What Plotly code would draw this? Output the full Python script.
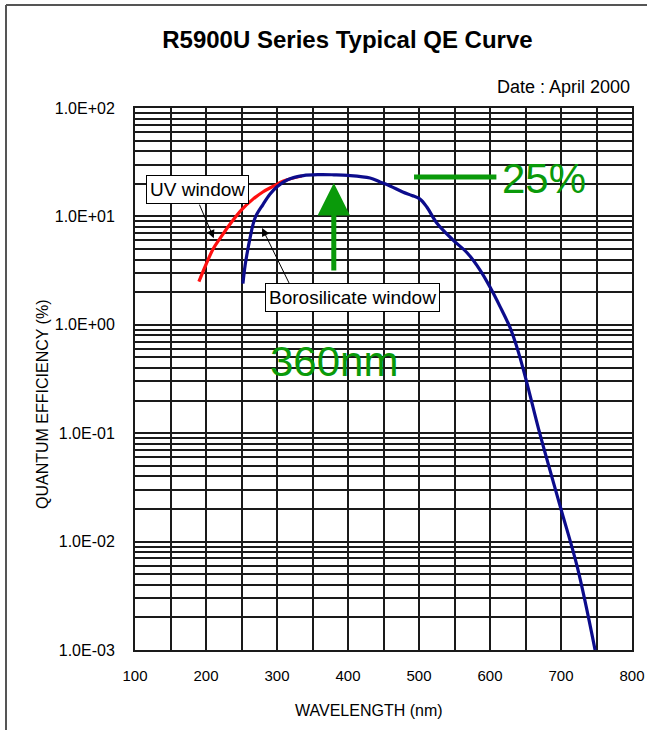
import numpy as np
import plotly.graph_objects as go

# ---- data ----
boro_wl = [252, 255, 258, 262, 266, 270, 280, 290, 300, 315, 337, 360, 380, 400,
           431, 445, 460, 477, 490, 501, 511, 525, 548, 568, 586, 600, 614, 628,
           640, 652, 670, 699, 723, 748]
boro_qe = [2.4, 3.5, 4.6, 6.3, 8.3, 10.0, 12.8, 16.0, 18.8, 21.8, 23.8, 24.3, 24.2, 23.9,
           22.6, 20.8, 19.0, 16.8, 15.6, 14.5, 12.2, 8.7, 6.05, 4.6, 3.2, 2.23, 1.48, 0.95,
           0.56, 0.29, 0.1, 0.021, 0.0058, 0.001]

uv_wl = [190, 200, 210, 220, 235, 250, 265, 280, 295, 310, 335]
uv_qe = [2.5, 3.6, 5.0, 6.3, 8.7, 11.5, 14.2, 16.8, 19.0, 21.3, 23.6]

x_tickvals = list(range(100, 801, 50))
x_ticktext = [str(v) if v % 100 == 0 else "" for v in x_tickvals]

decades = [-3, -2, -1, 0, 1]
y_tickvals = [m * 10.0 ** d for d in decades for m in range(1, 10)] + [100.0]
y_ticktext = []
for d in decades:
    y_ticktext.append("1.0E%+03d" % d)
    y_ticktext += [""] * 8
y_ticktext.append("1.0E+02")

peak_wl = 380          # position of the green arrow
peak_arrow_qe = [3.07, 20.3]
level_line_wl = [493, 609]
level_line_qe = [23.1, 23.1]

FONT = "Liberation Sans, Arial, sans-serif"
GREEN = "#0a9a0a"

fig = go.Figure()
fig.add_trace(go.Scatter(x=uv_wl, y=uv_qe, mode="lines", line=dict(color="#ff1010", width=3.2, shape="spline"),
                         name="UV window", hoverinfo="skip"))
fig.add_trace(go.Scatter(x=boro_wl, y=boro_qe, mode="lines", line=dict(color="#0c0c8c", width=3.2, shape="spline"),
                         name="Borosilicate window", hoverinfo="skip"))
fig.add_trace(go.Scatter(x=level_line_wl, y=level_line_qe, mode="lines", line=dict(color=GREEN, width=5),
                         hoverinfo="skip", showlegend=False))

fig.update_layout(
    width=647, height=730,
    margin=dict(l=135, r=15, t=108, b=80, autoexpand=False),
    paper_bgcolor="white", plot_bgcolor="white",
    showlegend=False,
    font=dict(family=FONT, color="black"),
    title=dict(text="<b>R5900U Series Typical QE Curve</b>", x=0.537, xanchor="center",
               y=1 - 40 / 730, yanchor="middle", font=dict(size=24, family=FONT, color="black")),
)

fig.update_xaxes(
    range=[100, 800], tickvals=x_tickvals, ticktext=x_ticktext,
    showgrid=True, gridcolor="#1a1a1a", gridwidth=1.6,
    showline=True, linecolor="#1a1a1a", linewidth=2, mirror=True,
    ticks="", tickfont=dict(size=15), ticklabelstandoff=11,
    zeroline=False, automargin=False,
)
fig.update_yaxes(
    type="log", range=[-3, 2], tickvals=y_tickvals, ticktext=y_ticktext,
    showgrid=True, gridcolor="#1a1a1a", gridwidth=1.6,
    showline=True, linecolor="#1a1a1a", linewidth=2, mirror=True,
    ticks="", tickfont=dict(size=16), ticklabelstandoff=15, automargin=False,
)

# axis titles
fig.add_annotation(text="WAVELENGTH (nm)", xref="paper", yref="paper", x=(369 - 135) / 497,
                   y=(650 - 710) / 542, xanchor="center", yanchor="middle", showarrow=False,
                   font=dict(size=16))
fig.add_annotation(text="QUANTUM EFFICIENCY (%)", xref="paper", yref="paper", x=(42 - 135) / 497,
                   y=(650 - 405) / 542, xanchor="center", yanchor="middle", showarrow=False,
                   textangle=-90, font=dict(size=16))

# Date note
fig.add_annotation(text="Date : April 2000", xref="paper", yref="paper", x=1.0, y=(650 - 87) / 542,
                   xanchor="right", yanchor="middle", showarrow=False, font=dict(size=18))

# window labels (boxes) and their arrows
fig.add_annotation(text="UV window", xref="x", yref="y", x=188, y=np.log10(17.8),
                   showarrow=False, bgcolor="white", bordercolor="black", borderwidth=1,
                   borderpad=3, font=dict(size=19))
fig.add_annotation(text="", xref="x", yref="y", x=211, y=np.log10(6.3),
                   ax=-15, ay=-35, showarrow=True, arrowhead=2, arrowsize=1.6,
                   arrowwidth=1, arrowcolor="black")
fig.add_annotation(text="Borosilicate window", xref="x", yref="y", x=407, y=np.log10(1.77),
                   showarrow=False, bgcolor="white", bordercolor="black", borderwidth=1,
                   borderpad=3, font=dict(size=19))
fig.add_annotation(text="", xref="x", yref="y", x=279, y=np.log10(7.8),
                   ax=28, ay=57, showarrow=True, arrowhead=2, arrowsize=1.6,
                   arrowwidth=1, arrowcolor="black")

# green peak arrow
fig.add_annotation(text="", xref="x", yref="y", x=peak_wl, y=np.log10(peak_arrow_qe[1]),
                   axref="x", ayref="y", ax=peak_wl, ay=np.log10(peak_arrow_qe[0]),
                   showarrow=True, arrowhead=2, arrowsize=1.3, arrowwidth=5, arrowcolor=GREEN)

# green labels
for txt, xv, yv in [("360nm", 380, 10 ** -0.343), ("25%", 676, 10 ** 1.354)]:
    fig.add_annotation(text=txt, xref="x", yref="y", x=xv, y=np.log10(yv), showarrow=False,
                       font=dict(size=42, color=GREEN))

# outer frame (left and top edges visible in the reference)
fx = (6 - 135) / 497
fy = (650 - 5) / 542
fig.add_shape(type="line", xref="paper", yref="paper", x0=fx, x1=fx, y0=fy, y1=-0.3,
              line=dict(color="#555555", width=2))
fig.add_shape(type="line", xref="paper", yref="paper", x0=fx, x1=1.1, y0=fy, y1=fy,
              line=dict(color="#555555", width=2))

fig.write_html("out.html")
